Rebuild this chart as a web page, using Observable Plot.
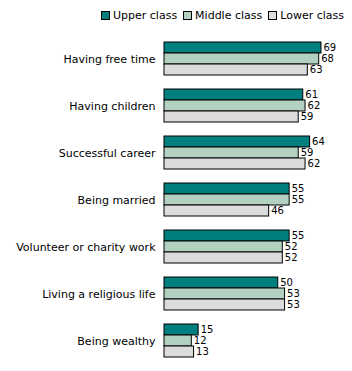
<!DOCTYPE html>
<html><head><meta charset="utf-8">
<script src="https://cdn.jsdelivr.net/npm/d3@7"></script>
<script src="https://cdn.jsdelivr.net/npm/@observablehq/plot@0.6"></script>
<style>
body{margin:0;background:#fff;font-family:"DejaVu Sans",sans-serif;}
#legend{height:28px;display:flex;align-items:center;padding-left:101px;font-size:11px;color:#000;box-sizing:border-box;padding-top:3px}
.it{display:flex;align-items:center;margin-right:6px}
.sw{width:7px;height:7px;border:1px solid #000;margin-right:3px}
</style></head><body>
<div id="legend"></div>
<div id="chart"></div>
<script>
const categories = ["Having free time","Having children","Successful career","Being married","Volunteer or charity work","Living a religious life","Being wealthy"];
const series = ["Upper class","Middle class","Lower class"];
const upper = [69,61,64,55,55,50,15];
const middle = [68,62,59,55,52,53,12];
const lower = [63,59,62,46,52,53,13];
const colors = ["#007f7f","#b3d1c0","#dcdcdc"];

const rows = [];
categories.forEach((c,i)=>{
  [upper,middle,lower].forEach((arr,j)=>rows.push({category:c, series:series[j], value:arr[i]}));
});

const lg = document.getElementById("legend");
series.forEach((s,i)=>{
  const d=document.createElement("div");d.className="it";
  d.innerHTML=`<span class="sw" style="background:${colors[i]}"></span><span>${s}</span>`;
  lg.appendChild(d);
});

const chart = Plot.plot({
  width:352, height:343,
  marginLeft:164, marginRight:6, marginTop:13, marginBottom:12,
  style:{fontFamily:"DejaVu Sans", fontSize:"11px", color:"#000", background:"#fff"},
  facet:{data:rows, y:"category"},
  fy:{domain:categories, padding:0.247, label:null, tickSize:0, tickPadding:9, axis:"left"},
  y:{domain:series, padding:0, axis:null},
  x:{domain:[0,80], axis:null},
  color:{domain:series, range:colors},
  marks:[
    Plot.barX(rows,{x:"value", y:"series", fill:"series", stroke:"#000", strokeWidth:1}),
    Plot.text(rows,{x:"value", y:"series", text:d=>String(d.value), textAnchor:"start", dx:2, fill:"#000", fontSize:10})
  ]
});
document.getElementById("chart").appendChild(chart);
</script>
</body></html>
